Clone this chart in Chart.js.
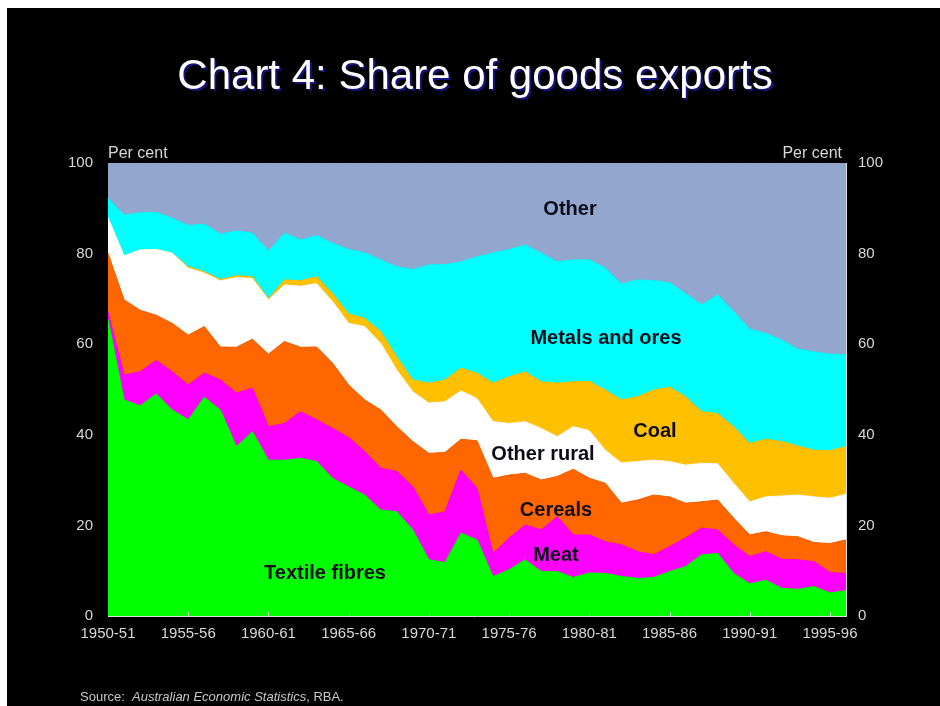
<!DOCTYPE html>
<html lang="en">
<head>
  <meta charset="UTF-8" />
  <title>Chart 4: Share of goods exports</title>
  <script src="https://cdn.jsdelivr.net/npm/chart.js"></script>
  <style>
    body {
      margin: 0;
      width: 940px;
      height: 706px;
      background: #fff;
      position: relative;
      overflow: hidden;
      font-family: 'Liberation Sans', Arial, sans-serif;
    }
    .frame {
      position: absolute;
      left: 7px;
      top: 8px;
      right: 0;
      bottom: 0;
      background: #000;
    }
    canvas {
      position: absolute;
      left: 0;
      top: 0;
    }
    h1 {
      position: absolute;
      left: 0;
      width: 950px;
      top: 51px;
      margin: 0;
      text-align: center;
      font-weight: normal;
      font-size: 42px;
      color: #fff;
      text-shadow: 2px 2px 0 #14147a;
    }
    .unit {
      position: absolute;
      top: 144px;
      font-size: 16px;
      color: #d8d8d8;
    }
    .lbl {
      position: absolute;
      font-weight: bold;
      font-size: 20px;
      color: #0d0d1a;
      transform: translate(-50%, -50%);
      white-space: nowrap;
    }
    .source {
      position: absolute;
      left: 80px;
      top: 689px;
      font-size: 13px;
      color: #c8c8c8;
    }
  </style>
</head>
<body>
  <div class="frame"></div>
  <canvas id="chart" width="940" height="706"></canvas>
  <h1>Chart 4: Share of goods exports</h1>
  <div class="unit" style="left:108px">Per cent</div>
  <div class="unit" style="right:98px">Per cent</div>
  <div class="lbl" style="left:570px;top:208px">Other</div>
  <div class="lbl" style="left:606px;top:337px">Metals and ores</div>
  <div class="lbl" style="left:655px;top:430px">Coal</div>
  <div class="lbl" style="left:543px;top:453px">Other rural</div>
  <div class="lbl" style="left:556px;top:509px">Cereals</div>
  <div class="lbl" style="left:556px;top:554px">Meat</div>
  <div class="lbl" style="left:325px;top:572px">Textile fibres</div>
  <div class="source">Source:&nbsp; <i>Australian Economic Statistics</i>, RBA.</div>

  <script>
    const years = [
      '1950-51', '1951-52', '1952-53', '1953-54', '1954-55', '1955-56', '1956-57', '1957-58',
      '1958-59', '1959-60', '1960-61', '1961-62', '1962-63', '1963-64', '1964-65', '1965-66',
      '1966-67', '1967-68', '1968-69', '1969-70', '1970-71', '1971-72', '1972-73', '1973-74',
      '1974-75', '1975-76', '1976-77', '1977-78', '1978-79', '1979-80', '1980-81', '1981-82',
      '1982-83', '1983-84', '1984-85', '1985-86', '1986-87', '1987-88', '1988-89', '1989-90',
      '1990-91', '1991-92', '1992-93', '1993-94', '1994-95', '1995-96', '1996-97'
    ];

    // shares in per cent
    const textileFibres = [
      65.5, 47.7, 46.4, 49.0, 45.5, 43.3, 48.3, 45.5, 37.4, 40.7, 34.4, 34.4, 34.8, 34.1, 30.4, 28.5,
      26.7, 23.4, 23.0, 19.0, 12.4, 11.8, 18.3, 16.8, 8.7, 10.2, 12.4, 9.8, 9.8, 8.5, 9.5, 9.4,
      8.7, 8.3, 8.5, 9.8, 10.9, 13.5, 13.8, 9.4, 7.1, 7.9, 6.1, 5.9, 6.5, 5.1, 5.6
    ];
    const meat = [
      1.7, 5.5, 7.5, 7.4, 8.4, 7.7, 5.3, 6.6, 11.8, 9.6, 7.4, 8.1, 10.3, 9.2, 11.0, 10.9,
      9.6, 9.2, 8.9, 9.5, 9.9, 11.2, 13.9, 11.4, 5.1, 7.0, 7.7, 9.2, 12.1, 9.4, 8.4, 7.0,
      7.0, 5.9, 5.0, 5.5, 6.3, 5.9, 5.2, 6.3, 6.0, 6.3, 6.4, 6.5, 5.5, 4.5, 3.8
    ];
    const cereals = [
      12.9, 16.6, 13.6, 10.0, 10.7, 11.0, 10.3, 7.3, 10.1, 10.8, 16.0, 18.1, 14.2, 16.1, 14.4, 11.6,
      11.4, 12.9, 9.9, 10.0, 13.6, 13.1, 6.8, 10.5, 16.6, 13.9, 11.4, 11.0, 8.9, 14.5, 12.5, 12.9,
      9.2, 11.4, 13.2, 11.0, 7.7, 5.8, 6.6, 5.9, 4.8, 4.4, 5.2, 5.1, 4.2, 6.4, 7.4
    ];
    const otherRural = [
      7.8, 9.7, 13.3, 14.5, 15.5, 14.8, 11.8, 14.6, 15.4, 13.4, 12.0, 12.5, 13.5, 14.0, 13.6, 13.6,
      16.2, 14.7, 12.5, 11.0, 11.1, 11.2, 10.7, 9.3, 12.5, 11.4, 11.4, 11.4, 8.8, 9.4, 10.5, 7.3,
      8.9, 8.5, 7.7, 7.8, 8.4, 8.5, 8.0, 7.7, 7.3, 7.7, 8.8, 9.2, 10.1, 10.0, 10.1
    ];
    const coal = [
      0, 0, 0, 0, 0, 0.3, 0.3, 0.3, 0.4, 0.4, 0.3, 1.1, 1.2, 1.5, 1.8, 2.1,
      1.8, 2.6, 2.9, 2.6, 4.4, 4.8, 5.0, 5.6, 8.5, 10.3, 11.0, 10.3, 11.8, 9.9, 10.9, 13.3,
      13.9, 14.3, 15.5, 16.4, 15.1, 11.4, 11.1, 12.5, 12.9, 12.7, 12.0, 10.8, 10.3, 10.5, 10.5
    ];
    const metalsOres = [
      4.3, 9.0, 8.2, 8.2, 7.7, 9.1, 10.5, 10.0, 9.9, 9.6, 10.5, 10.3, 9.0, 9.1, 11.1, 14.2,
      14.5, 15.8, 19.9, 24.4, 26.1, 25.5, 23.5, 25.7, 28.8, 28.1, 28.0, 28.4, 26.8, 26.9, 26.8, 26.9,
      25.6, 25.8, 24.1, 23.1, 22.8, 23.6, 26.2, 25.4, 25.2, 23.4, 22.4, 21.4, 21.7, 21.3, 20.2
    ];
    const other = [
      7.8, 11.5, 11.0, 10.9, 12.2, 13.8, 13.5, 15.7, 15.0, 15.5, 19.4, 15.5, 17.0, 16.0, 17.7, 19.1,
      19.8, 21.4, 22.9, 23.5, 22.5, 22.4, 21.8, 20.7, 19.8, 19.1, 18.1, 19.9, 21.8, 21.4, 21.4, 23.2,
      26.7, 25.8, 26.0, 26.4, 28.8, 31.3, 29.1, 32.8, 36.7, 37.6, 39.1, 41.1, 41.7, 42.2, 42.4
    ];

    const yTicks = [0, 20, 40, 60, 80, 100];

    const series = [
      { label: 'Textile fibres', data: textileFibres, color: '#00ff00' },
      { label: 'Meat', data: meat, color: '#ff00ff' },
      { label: 'Cereals', data: cereals, color: '#ff6600' },
      { label: 'Other rural', data: otherRural, color: '#ffffff' },
      { label: 'Coal', data: coal, color: '#ffc000' },
      { label: 'Metals and ores', data: metalsOres, color: '#00ffff' },
      { label: 'Other', data: other, color: '#92a6ce' }
    ];

    const tickFont = { family: "'Liberation Sans', Arial, sans-serif", size: 15 };
    const tickColor = '#d8d8d8';

    // small tick marks pointing up into the plot every five years
    const innerTicks = {
      id: 'innerTicks',
      afterDatasetsDraw(chart) {
        const x = chart.scales.x;
        const ctx = chart.ctx;
        const bottom = chart.chartArea.bottom;
        ctx.save();
        ctx.strokeStyle = '#e8e8e8';
        ctx.lineWidth = 1;
        years.forEach((y, i) => {
          if (i % 5 !== 0 || i === 0) return;
          const px = Math.round(x.getPixelForValue(i)) + 0.5;
          ctx.beginPath();
          ctx.moveTo(px, bottom);
          ctx.lineTo(px, bottom - 4);
          ctx.stroke();
        });
        ctx.restore();
      }
    };

    new Chart(document.getElementById('chart'), {
      type: 'line',
      data: {
        labels: years,
        datasets: series.map((s, i) => ({
          label: s.label,
          data: s.data,
          backgroundColor: s.color,
          borderColor: s.color,
          borderWidth: 1,
          pointRadius: 0,
          tension: 0,
          fill: i === 0 ? 'origin' : '-1'
        }))
      },
      options: {
        responsive: false,
        animation: false,
        devicePixelRatio: 1,
        layout: { padding: { top: 163, left: 0, right: 0, bottom: 0 } },
        plugins: {
          legend: { display: false },
          tooltip: { enabled: false }
        },
        scales: {
          x: {
            offset: false,
            grid: { display: false, drawTicks: false },
            border: { display: true, color: '#e0e0e0', width: 1 },
            ticks: {
              autoSkip: false,
              maxRotation: 0,
              padding: 9,
              color: tickColor,
              font: tickFont,
              callback: (v, i) => (i % 5 === 0 ? years[i] : '')
            },
            afterFit: (scale) => { scale.height = 90; }
          },
          y: {
            stacked: true,
            min: 0,
            max: 100,
            position: 'left',
            grid: { display: false, drawTicks: false },
            border: { display: true, color: '#e0e0e0', width: 1 },
            afterBuildTicks: (scale) => { scale.ticks = yTicks.map(v => ({ value: v })); },
            ticks: { padding: 15, color: tickColor, font: tickFont },
            afterFit: (scale) => { scale.width = 108; }
          },
          y2: {
            min: 0,
            max: 100,
            position: 'right',
            grid: { display: false, drawTicks: false },
            border: { display: true, color: '#e0e0e0', width: 1 },
            afterBuildTicks: (scale) => { scale.ticks = yTicks.map(v => ({ value: v })); },
            ticks: { padding: 12, color: tickColor, font: tickFont },
            afterFit: (scale) => { scale.width = 94; }
          }
        }
      },
      plugins: [innerTicks]
    });
  </script>
</body>
</html>
